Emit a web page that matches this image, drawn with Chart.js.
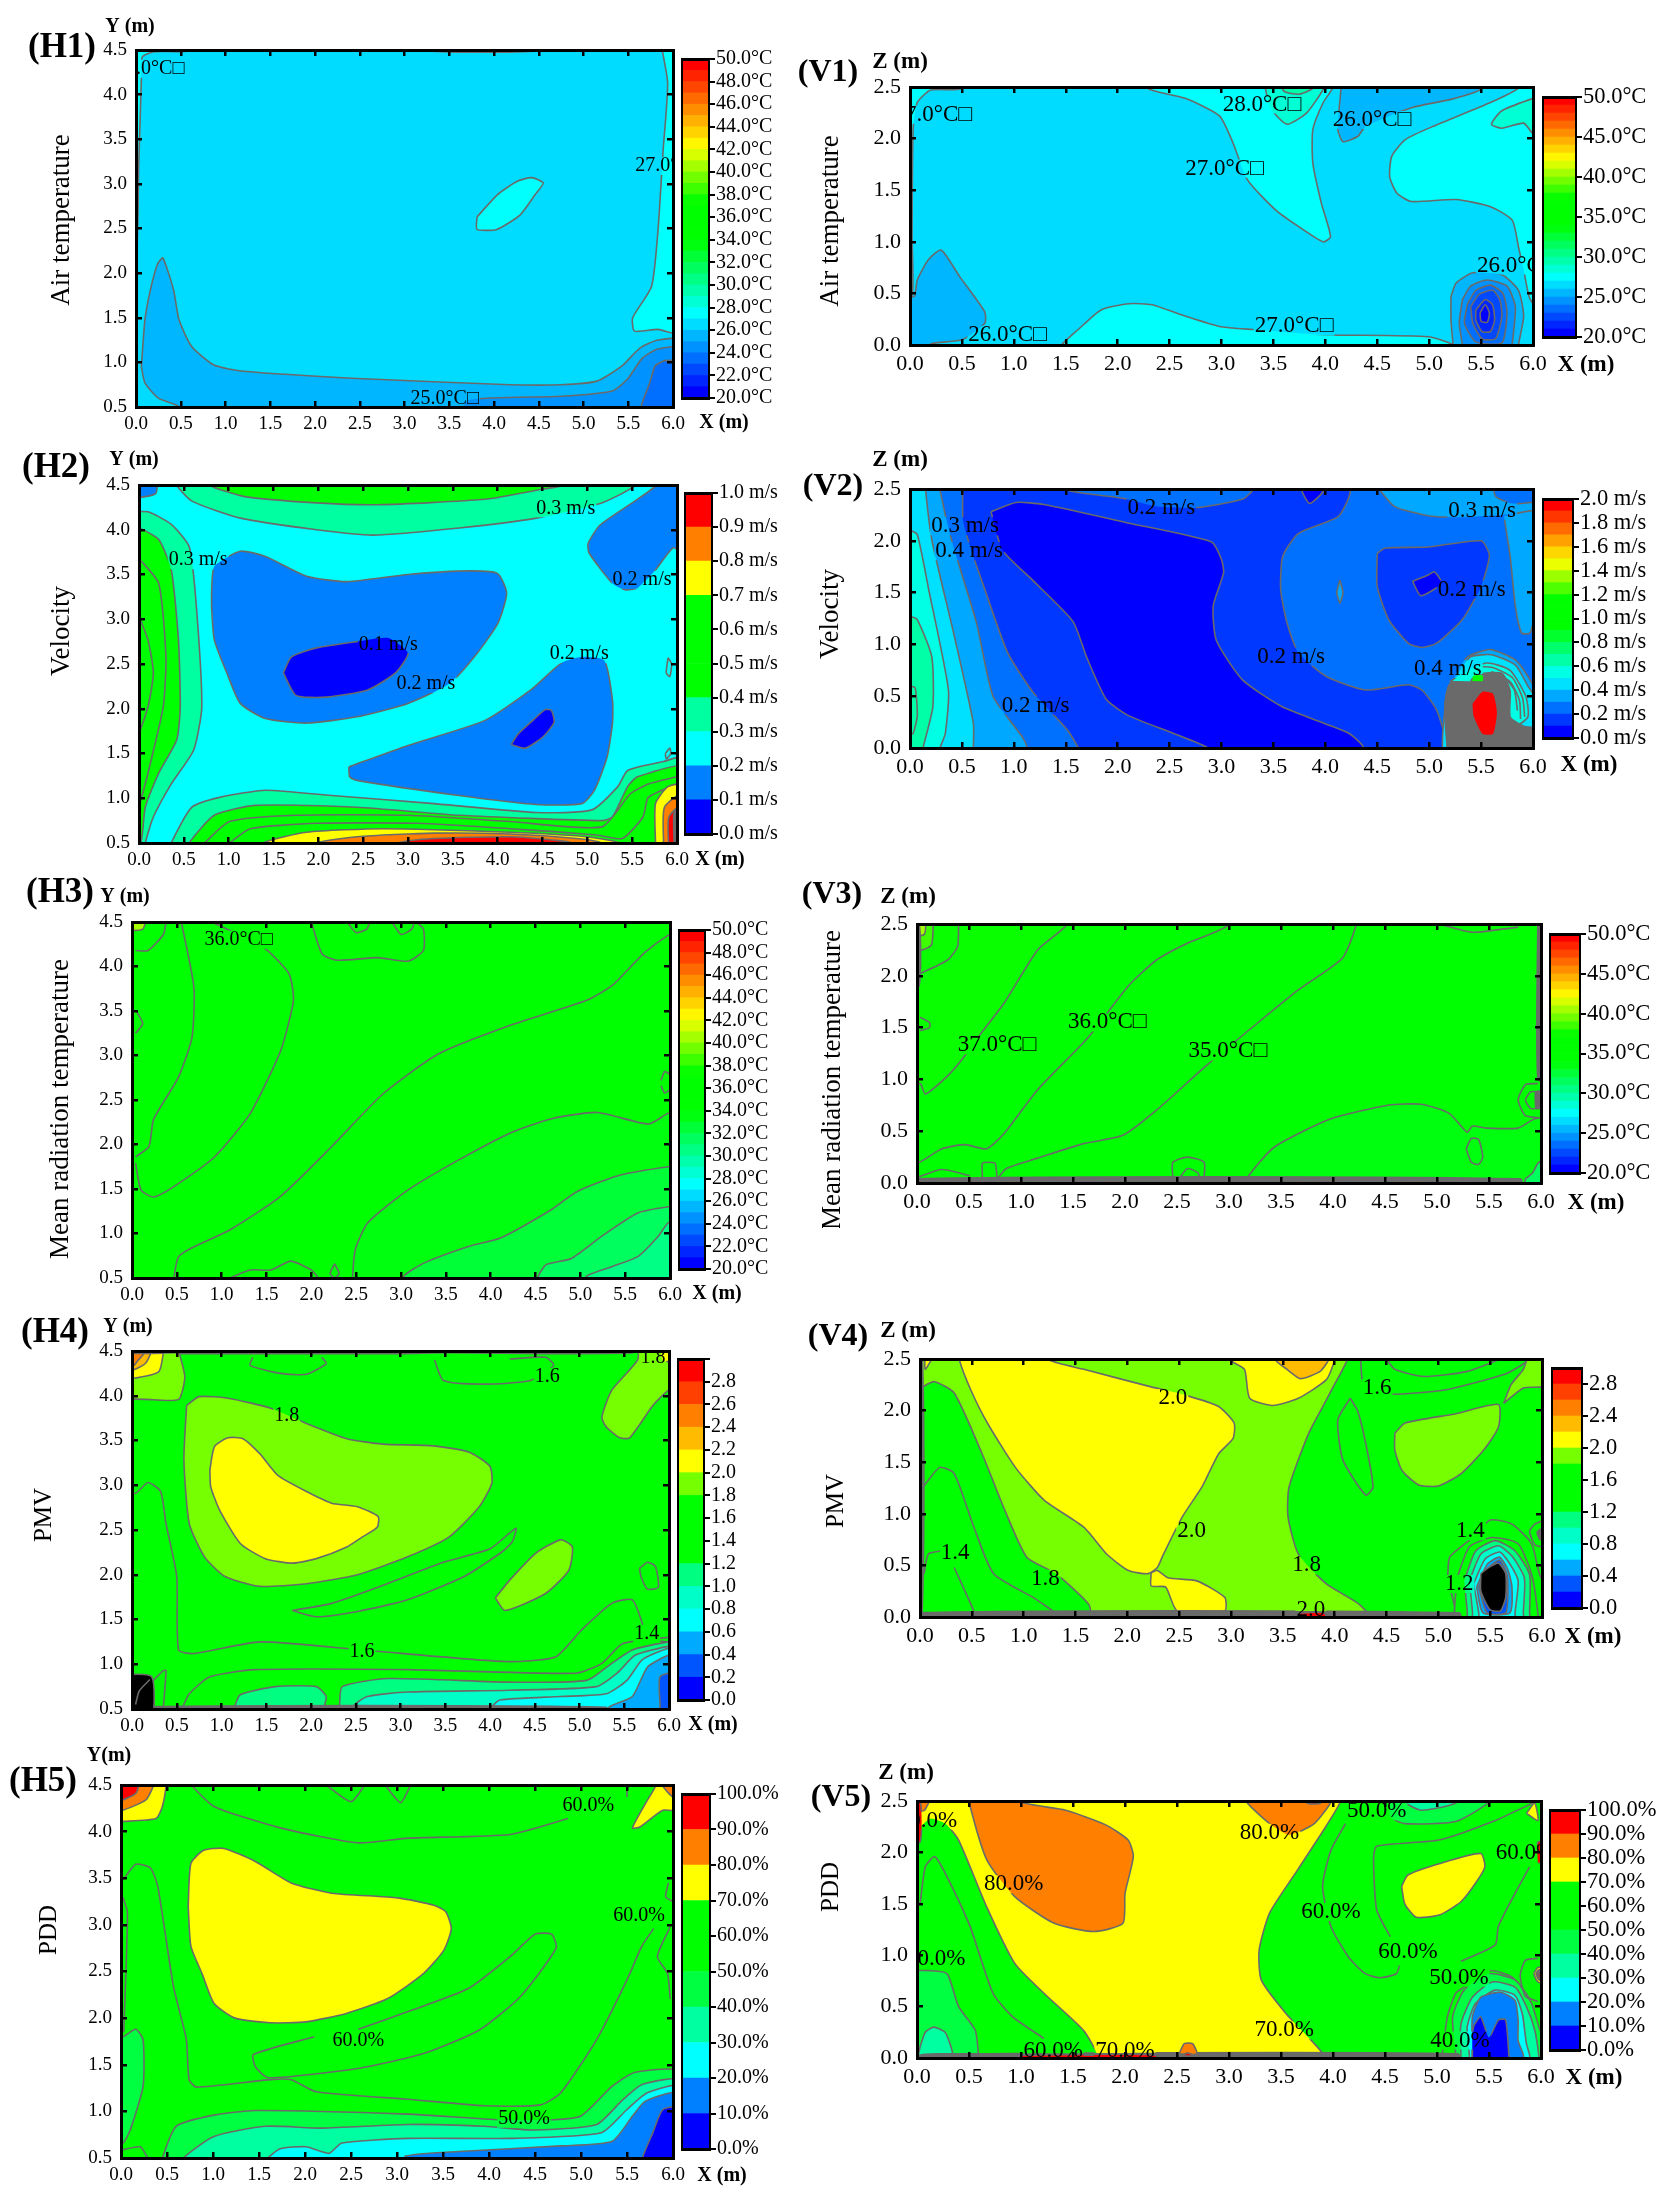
<!DOCTYPE html>
<html>
<head>
<meta charset="utf-8">
<title>Indoor thermal environment contours</title>
<script src="https://cdn.jsdelivr.net/npm/chart.js@4"></script>
<style>
  html, body { margin: 0; background: #fff; }
  #page { position: relative; width: 1675px; height: 2200px; overflow: hidden; }
  canvas { position: absolute; }
</style>
</head>
<body>
<div id="page"></div>
<script>
const DENSE = 'dense';  // patch where contour lines pile up into solid grey
const OFF = 'off';      // values outside the colour map, black in the figure
const LINE = 'line';    // contour with the same colour on both sides
const wholeArea = [[-1, -1], [7, -1], [7, 6], [-1, 6]];

// Contours: [lower level of the band, [[x, y], ...]] painted in this order
const h1Regions = [
  [26, wholeArea],
  [27, [[5.86,4.6],[5.94,4.13],[5.89,3.38],[5.83,2.45],[5.76,1.85],[5.55,1.5],[5.57,1.35],[5.83,1.37],[6.1,1.33],[6.1,4.6]]],
  [27, [[-0.1,4.6],[0.7,4.6],[0.6,4.49],[0.2,4.48],[0.07,4.42],[0.06,4.16],[0.03,3.2],[0,2.07],[-0.1,2.07]]],
  [27, [[3.2,4.6],[3.25,4.49],[4.5,4.49],[4.55,4.6]]],
  [25, [[0.06,0.95],[0.1,1.48],[0.16,1.81],[0.24,2.1],[0.3,2.17],[0.42,1.81],[0.48,1.48],[0.62,1.18],[0.87,0.97],[1.21,0.9],[2.47,0.82],[4.18,0.75],[4.75,0.75],[5.15,0.79],[5.43,0.96],[5.63,1.16],[5.83,1.25],[6.1,1.25],[6.1,0.4],[0.5,0.4],[0.47,0.51],[0.25,0.6],[0.1,0.77]]],
  [24, [[3.6,0.4],[3.72,0.58],[4.75,0.62],[5.32,0.68],[5.49,0.81],[5.66,1.05],[5.83,1.15],[6.1,1.16],[6.1,0.4]]],
  [23, [[5.63,0.4],[5.65,0.53],[5.74,0.77],[5.8,0.96],[5.91,1.02],[6.1,1],[6.1,0.4]]],
  [27, [[3.81,2.63],[4.04,2.88],[4.26,3.03],[4.42,3.07],[4.55,3.01],[4.46,2.88],[4.29,2.65],[4.03,2.49],[3.81,2.49]]]
];
const h1Labels = [[0.16,4.29,'27.0°C□'],[5.96,3.2,'27.0°C□'],[3.45,0.59,'25.0°C□']];

const v1Regions = [
  [26, wholeArea],
  [27, [[-0.1,2.6],[0.55,2.6],[0.48,2.48],[0.2,2.47],[0.07,2.35],[0.03,2.09],[0.02,1.05],[0.02,0.47],[-0.1,0.47]]],
  [27, [[2.25,2.6],[2.3,2.48],[2.65,2.39],[2.98,2.22],[3.11,1.96],[3.25,1.6],[3.52,1.31],[3.74,1.15],[3.98,1],[4.05,1.05],[3.96,1.38],[3.88,1.76],[3.88,2.09],[3.98,2.35],[4.07,2.49],[4.07,2.6]]],
  [28, [[3.4,2.6],[3.47,2.3],[3.63,2.14],[3.82,2.25],[3.98,2.48],[4,2.6]]],
  [29, [[3.55,2.6],[3.6,2.46],[3.75,2.43],[3.9,2.5],[3.92,2.6]]],
  [25, [[4.15,2.6],[4.15,2.48],[4.12,2.09],[4.17,1.97],[4.31,2.02],[4.39,2.12],[4.83,2.3],[5.21,2.38],[5.5,2.48],[5.5,2.6]]],
  [27, [[5.9,2.6],[5.86,2.49],[5.59,2.35],[5.04,2.12],[4.77,1.99],[4.64,1.83],[4.62,1.63],[4.69,1.47],[4.83,1.39],[5.26,1.41],[5.59,1.34],[5.8,1.21],[5.86,0.95],[5.91,0.73],[5.97,0.45],[6.1,0.3],[6.1,2.6]]],
  [28, [[6.1,2.42],[6,2.39],[5.7,2.27],[5.6,2.14],[5.7,2.1],[5.91,2.15],[6,2.05],[6.1,2.05]]],
  [25, [[-0.1,0.47],[0.04,0.47],[0.07,0.63],[0.18,0.83],[0.3,0.92],[0.48,0.66],[0.72,0.32],[0.72,0.21],[0.5,0.05],[0.2,0.01],[0.2,-0.1],[-0.1,-0.1]]],
  [27, [[1.46,-0.1],[1.46,0],[1.62,0.15],[1.84,0.34],[2.11,0.4],[2.33,0.39],[2.65,0.28],[2.98,0.18],[3.3,0.15],[3.96,0.1],[4.99,0.08],[5.23,0],[5.23,-0.1]]],
  [25, [[5.21,0.47],[5.26,0.6],[5.42,0.7],[5.7,0.68],[5.86,0.53],[5.91,0.28],[5.86,0],[5.86,-0.1],[5.23,-0.1],[5.23,0],[5.21,0.24]]],
  [24, [[5.32,0.44],[5.4,0.57],[5.56,0.63],[5.75,0.57],[5.83,0.37],[5.8,0],[5.8,-0.1],[5.32,-0.1],[5.32,0],[5.29,0.21]]],
  [23, [[5.37,0.4],[5.45,0.53],[5.59,0.58],[5.71,0.5],[5.75,0.31],[5.7,0.02],[5.45,0.03],[5.34,0.21]]],
  [22, [[5.4,0.37],[5.48,0.49],[5.61,0.53],[5.68,0.44],[5.7,0.28],[5.64,0.06],[5.51,0.06],[5.42,0.21]]],
  [21, [[5.45,0.34],[5.54,0.44],[5.61,0.39],[5.63,0.24],[5.59,0.13],[5.51,0.13],[5.45,0.24]]],
  [20, [[5.49,0.31],[5.54,0.39],[5.58,0.31],[5.56,0.22],[5.5,0.23]]]
];
const v1Labels = [[0.22,2.23,'27.0°C□'],[3.39,2.33,'28.0°C□'],[4.45,2.18,'26.0°C□'],[3.03,1.71,'27.0°C□'],[5.84,0.77,'26.0°C□'],[3.7,0.18,'27.0°C□'],[0.94,0.1,'26.0°C□']];

const h2Regions = [
  [0.2, wholeArea],
  [0.3, [[-0.1,4.2],[0.1,4.2],[0.36,4.06],[0.56,3.81],[0.64,3.14],[0.7,2.02],[0.61,1.54],[0.36,1.16],[0.16,0.79],[0.07,0.5],[0.07,0.4],[-0.1,0.4]]],
  [0.4, [[-0.1,4.02],[0,4.02],[0.22,3.89],[0.36,3.55],[0.44,2.77],[0.46,2.02],[0.42,1.65],[0.22,1.28],[0.07,0.9],[0.02,0.5],[-0.1,0.4]]],
  [LINE, [[0,3.68],[0.22,3.4],[0.3,2.58],[0.27,2.02],[0.1,1.28],[0,0.9]]],
  [LINE, [[0,3.03],[0.1,2.77],[0.16,2.4],[0.1,2.02],[0,1.72]]],
  [0.3, [[0.42,4.6],[0.42,4.5],[0.59,4.32],[1.13,4.13],[1.98,4],[2.61,3.94],[3.57,4.02],[4.43,4.13],[5.16,4.3],[5.53,4.49],[5.55,4.6]]],
  [0.4, [[0.78,4.6],[0.78,4.5],[1.18,4.37],[1.98,4.3],[2.66,4.28],[3.86,4.34],[4.48,4.45],[4.74,4.5],[4.75,4.6]]],
  [0.1, [[-0.1,4.6],[0.19,4.6],[0.19,4.41],[0.07,4.37],[-0.1,4.37]]],
  [0.1, [[5.76,4.6],[5.76,4.49],[5.5,4.3],[5.14,4.05],[5.01,3.85],[5.02,3.74],[5.28,3.4],[5.42,3.33],[5.56,3.35],[5.76,3.55],[5.96,3.8],[6.1,3.7],[6.1,4.6]]],
  [0.1, [[0.81,3.33],[0.84,3.59],[1.13,3.76],[1.41,3.7],[1.87,3.48],[2.32,3.42],[3,3.5],[3.69,3.54],[4,3.51],[4.1,3.29],[4,2.95],[3.74,2.58],[3.46,2.28],[3,2.06],[2.43,1.91],[1.87,1.84],[1.41,1.89],[1.13,2.06],[0.98,2.4],[0.84,2.77],[0.81,3.14]]],
  [0, [[1.61,2.4],[1.7,2.58],[1.98,2.68],[2.43,2.75],[2.78,2.79],[3,2.62],[2.86,2.4],[2.55,2.21],[2.09,2.13],[1.75,2.15]]],
  [0.1, [[2.34,1.35],[3,1.59],[3.86,1.87],[4.37,2.21],[4.71,2.51],[4.94,2.58],[5.19,2.54],[5.28,2.1],[5.28,1.84],[5.22,1.46],[5.08,1.09],[4.94,0.94],[4.43,0.93],[3.57,1.03],[2.43,1.2],[2.35,1.24]]],
  [0, [[4.15,1.6],[4.23,1.72],[4.37,1.85],[4.53,1.99],[4.6,1.98],[4.63,1.85],[4.51,1.69],[4.31,1.56]]],
  [0.3, [[0.36,0.4],[0.36,0.5],[0.59,0.9],[0.9,1.01],[1.41,1.09],[2.15,1.03],[3.29,0.94],[4.43,0.84],[5.05,0.87],[5.34,1.13],[5.45,1.31],[5.85,1.41],[6.1,1.46],[6.1,0.4]]],
  [0.4, [[0.56,0.4],[0.56,0.5],[0.84,0.81],[1.3,0.92],[2.43,0.9],[3.57,0.81],[5.16,0.75],[5.28,0.79],[5.45,1.13],[5.56,1.24],[6.1,1.35],[6.1,0.4]]],
  [LINE, [[0.73,0.5],[1.01,0.74],[1.75,0.81],[3,0.81],[4.14,0.74],[5.16,0.68],[5.48,1.05],[5.68,1.16],[6,1.24]]],
  [LINE, [[1.01,0.5],[1.24,0.66],[1.98,0.72],[3.12,0.72],[4.14,0.66],[5.11,0.59],[5.39,0.55],[5.62,0.79],[5.68,1.01],[6,1.16]]],
  [0.7, [[1.38,0.4],[1.38,0.5],[1.87,0.62],[2.72,0.66],[4.14,0.62],[4.99,0.57],[5.36,0.5],[5.36,0.4]]],
  [0.7, [[5.76,0.4],[5.76,0.5],[5.76,0.94],[5.9,1.13],[6.1,1.15],[6.1,0.4]]],
  [0.8, [[1.98,0.4],[1.98,0.5],[2.43,0.57],[3.29,0.61],[4.14,0.6],[4.88,0.55],[5.16,0.5],[5.16,0.4]]],
  [0.8, [[5.85,0.4],[5.85,0.5],[5.86,0.9],[6.1,1.07],[6.1,0.4]]],
  [0.9, [[2.89,0.4],[2.89,0.5],[3.29,0.55],[4.14,0.57],[4.65,0.53],[4.82,0.5],[4.82,0.4]]],
  [0.9, [[5.91,0.4],[5.91,0.79],[6.1,0.96],[6.1,0.4]]],
  [DENSE, [[5.97,0.45],[5.97,0.85],[6.1,0.95],[6.1,0.45]]],
  [0.2, [[5.9,2.57],[5.94,2.5],[5.92,2.36],[5.88,2.4]]],
  [0.2, [[5.87,1.5],[5.92,1.56],[5.93,1.5],[5.88,1.44]]]
];
const h2Labels = [[4.76,4.24,'0.3 m/s'],[0.66,3.66,'0.3 m/s'],[2.78,2.72,'0.1 m/s'],[3.2,2.28,'0.2 m/s'],[4.91,2.61,'0.2 m/s'],[5.61,3.44,'0.2 m/s']];

const v2Regions = [
  [0.2, wholeArea],
  [0.1, [[0.51,2.6],[4.23,2.6],[4.23,2.43],[4.12,2.23],[3.74,2.07],[3.59,1.85],[3.57,1.53],[3.63,1.21],[3.74,0.92],[4.01,0.69],[4.39,0.56],[4.8,0.61],[4.93,0.56],[5.07,0.37],[5.18,0.02],[5.18,-0.1],[1.62,-0.1],[1.62,0],[1.51,0.18],[1.19,0.53],[0.94,0.92],[0.7,1.59],[0.59,1.91],[0.51,2.2]]],
  [0.2, [[1.51,2.6],[1.51,2.49],[2.05,2.41],[2.38,2.33],[2.76,2.32],[3.2,2.4],[3.3,2.49],[3.3,2.6]]],
  [0.3, [[4.53,2.6],[4.53,2.49],[4.67,2.33],[5,2.24],[5.37,2.23],[6.1,2.31],[6.1,2.6]]],
  [0.2, [[5.6,2.6],[5.64,2.43],[5.8,2.36],[6.1,2.4],[6.1,2.6]]],
  [0.3, [[5.72,2.24],[5.78,1.85],[5.83,1.37],[5.89,1.11],[5.97,1.11],[6.02,1.3],[6.1,2.28]]],
  [0.3, [[4.14,1.62],[4.17,1.5],[4.14,1.4],[4.11,1.5]]],
  [0.1, [[4.5,1.88],[4.58,1.93],[4.99,1.94],[5.5,2],[5.58,1.86],[5.5,1.56],[5.32,1.24],[5.07,1.01],[4.93,0.97],[4.8,1.01],[4.61,1.24],[4.5,1.56]]],
  [0, [[4.84,1.61],[4.99,1.67],[5.05,1.7],[5.12,1.59],[4.92,1.47]]],
  [0, [[0.78,2.28],[1.02,2.37],[1.29,2.35],[2.11,2.17],[2.9,1.99],[3,1.82],[3.02,1.69],[2.92,1.37],[2.95,1.04],[3.2,0.66],[3.58,0.4],[4.01,0.23],[4.23,0.14],[4.36,0.02],[4.36,-0.1],[2.87,-0.1],[2.87,0],[2.54,0.14],[2.11,0.31],[1.89,0.47],[1.7,0.88],[1.57,1.22],[1.18,1.62],[0.89,1.91]]],
  [0, [[3.77,2.6],[3.77,2.49],[3.85,2.36],[3.98,2.48],[3.98,2.6]]],
  [0.3, [[-0.1,2.6],[0.29,2.6],[0.29,2.49],[0.4,2.01],[0.64,1.21],[0.8,0.5],[1.08,0.11],[1.13,0],[1.13,-0.1],[-0.1,-0.1]]],
  [0.4, [[-0.1,2.6],[0.15,2.6],[0.15,2.49],[0.21,2.01],[0.42,1.11],[0.61,0.24],[0.61,0],[0.61,-0.1],[-0.1,-0.1]]],
  [0.5, [[-0.1,2.1],[0,2.1],[0.07,2.06],[0.18,1.53],[0.37,0.56],[0.34,0.14],[0.29,0],[0.29,-0.1],[-0.1,-0.1]]],
  [0.6, [[-0.1,1.27],[0,1.27],[0.07,1.24],[0.21,0.88],[0.22,0.4],[0.13,0.02],[0.1,-0.1],[-0.1,-0.1]]],
  [LINE, [[0,0.6],[0.05,0.58],[0.07,0.31],[0.03,0.14],[0,0.14]]],
  [0.3, [[5.18,0.53],[5.26,0.72],[5.37,0.88],[5.59,0.95],[5.83,0.85],[5.97,0.66],[6.1,0.4],[6.1,-0.1],[5.18,-0.1]]],
  [0.4, [[5.16,0.5],[5.3,0.75],[5.4,0.88],[5.6,0.9],[5.83,0.8],[5.95,0.6],[6.1,0.35],[6.1,-0.1],[5.16,-0.1]]],
  [0.5, [[5.16,0.5],[5.3,0.7],[5.55,0.82],[5.78,0.75],[5.93,0.5],[5.95,0.3],[5.8,0.2]]],
  [LINE, [[5.4,0.78],[5.6,0.78],[5.8,0.68],[5.9,0.48],[5.92,0.3]]],
  [LINE, [[5.6,0.74],[5.78,0.64],[5.87,0.46],[5.88,0.28]]],
  [LINE, [[5.7,0.72],[5.82,0.56],[5.85,0.36]]],
  [DENSE, [[5.18,-0.1],[5.15,0.4],[5.2,0.62],[5.53,0.72],[5.7,0.72],[5.78,0.55],[5.78,0.3],[5.91,0.21],[6.1,0.18],[6.1,-0.1]]],
  [0.5, [[5.2,0.64],[5.3,0.7],[5.52,0.7],[5.52,0.64]]],
  [0.9, [[5.4,0.64],[5.43,0.7],[5.52,0.7],[5.52,0.64]]],
  [1.9, [[5.41,0.43],[5.51,0.55],[5.62,0.53],[5.66,0.34],[5.62,0.13],[5.51,0.13],[5.42,0.31]]]
];
const v2Labels = [[0.53,2.14,'0.3 m/s'],[0.57,1.9,'0.4 m/s'],[2.42,2.32,'0.2 m/s'],[5.51,2.29,'0.3 m/s'],[5.41,1.53,'0.2 m/s'],[3.67,0.88,'0.2 m/s'],[5.18,0.76,'0.4 m/s'],[1.21,0.41,'0.2 m/s']];

const h3Regions = [
  [36, wholeArea],
  [34, [[0.47,0.4],[0.47,0.52],[0.52,0.74],[0.67,0.84],[1.09,1.04],[1.66,1.42],[2.23,1.98],[2.8,2.57],[3.42,3.02],[4.22,3.34],[5.07,3.62],[5.36,3.79],[5.7,4.14],[5.98,4.35],[6.1,4.35],[6.1,0.4]]],
  [33, [[2.46,0.4],[2.46,0.52],[2.49,0.82],[2.63,1.12],[3.08,1.49],[3.65,1.83],[4.22,2.13],[4.68,2.29],[5.19,2.36],[5.76,2.23],[5.98,2.35],[6.1,2.35],[6.1,0.4]]],
  [32, [[3.03,0.4],[3.03,0.52],[3.26,0.67],[3.77,0.86],[4.11,0.95],[4.68,1.27],[4.96,1.47],[5.42,1.65],[5.98,1.75],[6.1,1.75],[6.1,0.4]]],
  [31, [[4.53,0.4],[4.53,0.52],[4.62,0.65],[4.9,0.72],[5.24,0.97],[5.64,1.23],[5.98,1.3],[6.1,1.3],[6.1,0.4]]],
  [30, [[5.07,0.4],[5.07,0.52],[5.36,0.63],[5.64,0.74],[5.87,0.97],[5.98,1.12],[6.1,1.12],[6.1,0.4]]],
  [LINE, [[0.55,4.5],[0.69,3.77],[0.67,3.21],[0.52,2.76],[0.24,2.28],[0.19,1.98],[0.04,1.86]]],
  [LINE, [[0.89,4.5],[1.46,4.22],[1.75,3.92],[1.8,3.62],[1.66,3.06],[1.32,2.35],[0.92,1.86],[0.41,1.49],[0.24,1.41],[0.1,1.49],[0.04,1.79]]],
  [LINE, [[2,4.5],[2.12,4.14],[2.29,4.07],[2.74,4.1],[3.08,4.06],[3.25,4.18],[3.25,4.42],[3.17,4.5]]],
  [LINE, [[2.4,4.5],[2.5,4.38],[2.62,4.42],[2.65,4.5]]],
  [LINE, [[2.9,4.5],[3,4.36],[3.12,4.42],[3.15,4.5]]],
  [LINE, [[0.04,4.18],[0.18,4.18],[0.35,4.36],[0.38,4.5]]],
  [LINE, [[0.04,3.51],[0.12,3.36],[0.04,3.25]]],
  [LINE, [[5.9,2.72],[5.94,2.82],[6,2.78],[6,2.62],[5.94,2.58],[5.9,2.66]]],
  [LINE, [[1.09,0.5],[1.32,0.59],[1.55,0.59],[1.77,0.69],[2,0.59],[2.08,0.5]]],
  [36, [[2.26,0.66],[2.31,0.55],[2.26,0.5],[2.21,0.55]]],
  [40, [[-0.1,4.6],[0.15,4.6],[0.12,4.42],[-0.1,4.42]]]
];
const h3Labels = [[1.19,4.3,'36.0°C□']];

const v3Regions = [
  [34, wholeArea],
  [35, [[-0.1,-0.1],[-0.1,2.6],[4.22,2.6],[4.22,2.48],[4.09,2.17],[3.66,1.86],[3.39,1.64],[2.79,1.14],[2.3,0.7],[1.98,0.46],[1.6,0.38],[1.16,0.24],[0.86,0.14],[0.78,0.04],[0.78,-0.1]]],
  [36, [[-0.1,0.2],[-0.1,2.6],[2.98,2.6],[2.98,2.48],[2.57,2.3],[2.3,2.15],[2.03,1.9],[1.65,1.41],[1.16,0.9],[0.84,0.48],[0.67,0.33],[0.46,0.37],[0.24,0.33],[0.02,0.2]]],
  [37, [[-0.1,0.9],[-0.1,2.6],[1.43,2.6],[1.43,2.48],[1.16,2.25],[0.84,1.74],[0.62,1.45],[0.43,1.19],[0.29,1.03],[0.08,0.86],[0.03,0.96]]],
  [33, [[3.17,-0.1],[3.17,0.04],[3.44,0.35],[3.98,0.62],[4.53,0.75],[4.85,0.76],[5.12,0.67],[5.29,0.49],[5.34,0.55],[5.48,0.53],[5.78,0.53],[5.94,0.62],[6.1,0.62],[6.1,-0.1]]],
  [LINE, [[5.02,2.5],[5.34,2.42],[5.78,2.47]]],
  [LINE, [[0.03,2.02],[0.29,2.15],[0.39,2.28],[0.4,2.5]]],
  [38, [[-0.1,2.6],[0.14,2.6],[0.14,2.3],[0.05,2.25],[-0.1,2.25]]],
  [40, [[-0.1,2.6],[0.07,2.6],[0.07,2.4],[-0.1,2.4]]],
  [33, [[5.28,0.33],[5.33,0.43],[5.4,0.42],[5.44,0.25],[5.4,0.18],[5.33,0.2]]],
  [LINE, [[0.02,0.06],[0.24,0.13],[0.51,0.07]]],
  [LINE, [[0.63,0.04],[0.63,0.19],[0.75,0.19],[0.77,0.04]]],
  [LINE, [[2.46,0.04],[2.46,0.2],[2.6,0.25],[2.76,0.2],[2.76,0.04]]],
  [LINE, [[2.52,0.04],[2.6,0.14],[2.7,0.1],[2.72,0.04]]],
  [LINE, [[0.03,1.6],[0.12,1.55],[0.12,1.5],[0.03,1.47]]],
  [LINE, [[5.97,0.96],[5.85,0.95],[5.78,0.8],[5.85,0.65],[5.97,0.63]]],
  [LINE, [[5.97,0.88],[5.9,0.88],[5.85,0.8],[5.9,0.72],[5.97,0.72]]],
  [DENSE, [[5.95,0.72],[5.95,0.88],[6.1,0.88],[6.1,0.72]]],
  [31, [[5.85,0.04],[5.92,0.1],[5.98,0.2],[6.1,0.2],[6.1,-0.1],[5.85,-0.1]]],
  [DENSE, [[-0.1,-0.1],[-0.1,0.04],[5.8,0.04],[5.8,-0.1]]],
  [DENSE, [[5.97,2.6],[5.97,1],[6.1,1],[6.1,2.6]]],
  [DENSE, [[-0.1,2.5],[0.02,2.5],[0.02,1.9],[-0.1,1.9]]]
];
const v3Labels = [[0.77,1.33,'37.0°C□'],[1.83,1.55,'36.0°C□'],[2.99,1.27,'35.0°C□']];

const h4Regions = [
  [1.6, wholeArea],
  [1.4, [[-0.1,2.91],[0.04,2.91],[0.18,3.03],[0.32,2.93],[0.38,2.57],[0.5,1.98],[0.52,1.16],[0.69,1.12],[1.43,1.25],[2.57,1.16],[4.17,1.03],[4.73,1.08],[5.02,1.38],[5.36,1.68],[5.59,1.72],[5.7,1.46],[5.73,1.29],[5.99,1.25],[6.1,1.25],[6.1,0.4],[-0.1,0.4]]],
  [1.8, [[-0.1,3.97],[0.15,3.96],[0.52,3.96],[0.59,4.21],[0.53,4.48],[0.53,4.6],[-0.1,4.6]]],
  [2.0, [[-0.1,4.2],[0.05,4.2],[0.3,4.27],[0.35,4.48],[0.35,4.6],[-0.1,4.6]]],
  [2.2, [[-0.1,4.29],[0.02,4.29],[0.15,4.36],[0.21,4.48],[0.21,4.6],[-0.1,4.6]]],
  [2.4, [[-0.1,4.34],[0.02,4.34],[0.07,4.4],[0.14,4.48],[0.14,4.6],[-0.1,4.6]]],
  [1.8, [[0.61,3.89],[0.75,3.99],[1.09,3.97],[1.55,3.86],[1.95,3.69],[2.4,3.52],[2.8,3.46],[3.37,3.44],[3.77,3.37],[4,3.21],[4.02,3.02],[3.88,2.76],[3.54,2.42],[3.08,2.2],[2.52,2],[1.95,1.9],[1.43,1.87],[1.04,1.98],[0.81,2.2],[0.64,2.57],[0.58,3.28]]],
  [2.0, [[0.87,3.17],[0.92,3.43],[1.07,3.53],[1.24,3.52],[1.43,3.35],[1.63,3.11],[1.95,2.93],[2.23,2.8],[2.52,2.76],[2.75,2.65],[2.74,2.53],[2.57,2.42],[2.4,2.31],[2.06,2.18],[1.8,2.13],[1.49,2.18],[1.21,2.35],[0.98,2.72],[0.88,2.98]]],
  [1.8, [[4.06,1.74],[4.22,1.94],[4.51,2.24],[4.79,2.39],[4.92,2.31],[4.88,2.05],[4.62,1.79],[4.17,1.6]]],
  [LINE, [[1.79,1.6],[2.23,1.68],[2.8,1.88],[3.48,2.14],[4,2.29],[4.29,2.52],[4.25,2.37],[4.14,2.26],[3.71,1.98],[3.08,1.72],[2.52,1.59],[2.06,1.53],[1.79,1.6]]],
  [LINE, [[1.35,4.43],[1.32,4.34],[1.66,4.25],[1.95,4.24],[2.17,4.36],[2.12,4.43]]],
  [LINE, [[3.38,4.4],[3.48,4.17],[3.94,4.13],[4.45,4.17],[4.71,4.34],[4.62,4.43],[4.22,4.41]]],
  [1.8, [[5.65,4.6],[5.65,4.4],[5.36,4.06],[5.25,3.76],[5.3,3.65],[5.45,3.53],[5.56,3.53],[5.82,3.89],[5.99,4.06],[6.1,4.1],[6.1,4.6]]],
  [2.0, [[5.9,4.6],[5.93,4.4],[6.1,4.38],[6.1,4.6]]],
  [LINE, [[5.67,2.07],[5.76,2.14],[5.85,2.09],[5.88,1.86],[5.76,1.84],[5.69,1.97],[5.67,2.07]]],
  [LINE, [[0.22,0.8],[0.35,0.93],[0.38,0.93],[0.35,0.52]]],
  [LINE, [[0.57,0.53],[0.64,0.67],[0.87,0.86],[1.38,0.94],[3.08,0.94],[4.96,0.9],[5.25,1.01],[5.48,1.23],[5.99,1.3]]],
  [1.0, [[1.15,0.4],[1.15,0.53],[1.21,0.66],[1.6,0.75],[2.06,0.75],[2.17,0.64],[2.15,0.53],[2.15,0.4]]],
  [1.0, [[2.32,0.4],[2.32,0.56],[2.35,0.75],[2.86,0.84],[4.22,0.8],[5.08,0.82],[5.36,1.01],[5.59,1.16],[5.99,1.25],[6.1,1.25],[6.1,0.4]]],
  [0.8, [[2.47,0.4],[2.47,0.53],[2.63,0.64],[3.08,0.69],[4.22,0.71],[5.19,0.75],[5.42,0.9],[5.62,1.1],[5.99,1.2],[6.1,1.2],[6.1,0.4]]],
  [0.6, [[4.02,0.4],[4.02,0.52],[4.11,0.6],[4.79,0.64],[5.3,0.67],[5.53,0.82],[5.7,1.05],[5.99,1.18],[6.1,1.18],[6.1,0.4]]],
  [0.4, [[5.33,0.4],[5.33,0.52],[5.59,0.64],[5.76,0.97],[5.99,1.1],[6.1,1.1],[6.1,0.4]]],
  [0.2, [[5.9,0.4],[5.9,0.54],[5.9,0.86],[6.1,0.9],[6.1,0.4]]],
  [DENSE, [[-0.1,0.4],[-0.1,0.52],[5.3,0.52],[5.3,0.4]]],
  [DENSE, [[-0.1,4.6],[-0.1,4.48],[0.5,4.48],[0.55,4.47],[3,4.47],[3.5,4.48],[5.6,4.48],[5.6,4.6]]],
  [OFF, [[-0.1,0.4],[-0.1,0.86],[0.22,0.86],[0.22,0.4]]],
  [LINE, [[0.04,0.55],[0.08,0.7],[0.2,0.83]]]
];
const h4Labels = [[1.73,3.78,'1.8'],[4.64,4.21,'1.6'],[5.82,4.42,'1.8'],[2.57,1.14,'1.6'],[5.75,1.34,'1.4']];

const v4Regions = [
  [1.6, wholeArea],
  [1.8, [[-0.1,2.1],[0.03,2.23],[0.14,2.28],[0.33,2.17],[0.6,1.58],[0.82,1.03],[1.03,0.58],[1.31,0.42],[1.63,0.12],[1.69,-0.1],[4.4,-0.1],[4.24,0.12],[3.92,0.32],[3.65,0.61],[3.55,0.97],[3.56,1.26],[3.75,1.78],[3.97,2.2],[4.13,2.6],[-0.1,2.6]]],
  [2.0, [[0.38,2.6],[0.38,2.49],[0.49,2.2],[0.65,1.88],[0.92,1.45],[1.2,1.13],[1.58,0.87],[1.8,0.61],[2.01,0.45],[2.2,0.42],[2.29,0.48],[2.34,0.59],[2.53,0.97],[2.72,1.26],[2.88,1.58],[3.02,1.73],[3.03,1.88],[2.88,2.04],[2.56,2.15],[2.23,2.23],[1.58,2.4],[1.25,2.49],[1.25,2.6]]],
  [2.0, [[0.05,2.6],[0.05,2.4],[0.12,2.5],[0.22,2.5],[0.25,2.6]]],
  [2.0, [[2.23,0.43],[2.23,0.3],[2.37,0.29],[2.48,0.06],[2.94,0.06],[2.94,0.19],[2.67,0.35],[2.39,0.38],[2.29,0.45]]],
  [2.0, [[2.99,2.6],[2.99,2.49],[3.13,2.4],[3.18,2.12],[3.4,2.05],[3.65,2.12],[3.92,2.3],[4,2.49],[4,2.6]]],
  [2.2, [[3.43,2.6],[3.43,2.49],[3.54,2.4],[3.67,2.31],[3.86,2.38],[3.94,2.49],[3.94,2.6]]],
  [LINE, [[0.04,0.42],[0.08,0.61],[0.2,0.64]]],
  [LINE, [[0.33,0.48],[0.52,0.06]]],
  [LINE, [[0.03,1.26],[0.19,1.45],[0.33,1.39],[0.52,0.87],[0.71,0.42],[1.09,0.19],[1.28,0.06]]],
  [1.8, [[4.58,1.78],[4.68,1.88],[5.17,1.97],[5.58,2.06],[5.58,1.84],[5.44,1.62],[5.22,1.39],[5,1.27],[4.81,1.28],[4.65,1.42],[4.58,1.62]]],
  [LINE, [[4.15,2.12],[4.03,1.91],[4.08,1.52],[4.3,1.18],[4.37,1.26],[4.3,1.68],[4.22,2],[4.15,2.12]]],
  [LINE, [[4.25,2.5],[4.28,2.25],[4.51,2.16],[5.06,2.2],[5.66,2.36],[5.88,2.49]]],
  [LINE, [[4.5,2.5],[4.58,2.4],[4.86,2.33],[5.28,2.38],[5.6,2.5]]],
  [1.8, [[5.63,2.07],[5.82,2.22],[5.99,2.23],[6.1,2.3],[6.1,2.6],[5.9,2.6],[5.82,2.4],[5.7,2.25]]],
  [1.4, [[5.09,0.38],[5.11,0.58],[5.33,0.77],[5.5,0.94],[5.71,0.9],[5.9,0.71],[5.99,0.38],[6.1,0.38],[6.1,-0.1],[5.17,-0.1],[5.17,0.04]]],
  [1.2, [[5.18,0.38],[5.3,0.68],[5.52,0.77],[5.77,0.71],[5.9,0.41],[5.96,0.04],[5.96,-0.1],[5.18,-0.1]]],
  [1.0, [[5.25,0.35],[5.36,0.64],[5.55,0.74],[5.74,0.64],[5.88,0.41],[5.88,0.04],[5.88,-0.1],[5.28,-0.1],[5.28,0.04]]],
  [0.8, [[5.3,0.35],[5.41,0.61],[5.58,0.69],[5.71,0.59],[5.83,0.38],[5.82,0.04],[5.82,-0.1],[5.33,-0.1],[5.33,0.04]]],
  [0.6, [[5.34,0.32],[5.45,0.56],[5.59,0.63],[5.68,0.53],[5.77,0.35],[5.74,0.04],[5.74,-0.1],[5.4,-0.1],[5.39,0.04]]],
  [0.4, [[5.37,0.29],[5.47,0.51],[5.59,0.58],[5.67,0.46],[5.71,0.29],[5.69,0.04],[5.43,0.04]]],
  [0.2, [[5.39,0.29],[5.49,0.48],[5.59,0.55],[5.66,0.42],[5.67,0.22],[5.65,0.04],[5.47,0.04]]],
  [OFF, [[5.41,0.42],[5.47,0.47],[5.58,0.52],[5.65,0.42],[5.65,0.19],[5.6,0.06],[5.5,0.07],[5.41,0.25]]],
  [LINE, [[6,0.93],[5.93,0.9],[5.88,0.83],[5.93,0.7],[6,0.68]]],
  [DENSE, [[5.95,0.82],[5.98,0.85],[6.1,0.85],[6.1,0.75],[5.98,0.75]]],
  [DENSE, [[-0.1,-0.1],[-0.1,0.04],[5.2,0.04],[5.2,-0.1]]],
  [DENSE, [[-0.1,2.6],[0.02,2.6],[0.02,0.04],[-0.1,0.04]]],
  [2.8, [[3.65,0.03],[3.9,0.03],[3.9,-0.1],[3.65,-0.1]]]
];
const v4Labels = [[2.44,2.12,'2.0'],[4.41,2.22,'1.6'],[2.62,0.83,'2.0'],[0.34,0.62,'1.4'],[1.21,0.37,'1.8'],[3.73,0.5,'1.8'],[5.31,0.83,'1.4'],[5.2,0.32,'1.2'],[3.77,0.07,'2.0']];

const h5Regions = [
  [50, wholeArea],
  [40, [[-0.1,1.8],[0.02,1.8],[0.16,1.88],[0.24,1.77],[0.24,1.27],[0.1,0.8],[0.02,0.66],[-0.1,0.66]]],
  [70, [[0.73,3.2],[0.76,3.66],[0.9,3.8],[1.12,3.82],[1.46,3.68],[1.85,3.45],[2.29,3.34],[3.01,3.29],[3.4,3.21],[3.53,3.14],[3.59,2.96],[3.51,2.73],[3.29,2.48],[2.9,2.21],[2.45,2.05],[2.01,1.96],[1.62,1.95],[1.24,2],[1.01,2.16],[0.88,2.48],[0.76,2.77]]],
  [70, [[-0.1,4.11],[0.02,4.11],[0.38,4.14],[0.45,4.27],[0.49,4.49],[0.49,4.6],[-0.1,4.6]]],
  [80, [[-0.1,4.23],[0.02,4.23],[0.27,4.34],[0.35,4.49],[0.35,4.6],[-0.1,4.6]]],
  [90, [[-0.1,4.34],[0.02,4.34],[0.16,4.41],[0.19,4.49],[0.19,4.6],[-0.1,4.6]]],
  [70, [[5.81,4.6],[5.81,4.49],[5.7,4.3],[5.56,4.04],[5.64,4.05],[5.89,4.23],[6.1,4.23],[6.1,4.6]]],
  [80, [[5.89,4.6],[5.89,4.49],[6,4.37],[6.1,4.37],[6.1,4.6]]],
  [LINE, [[0.76,4.5],[1.01,4.27],[1.73,4.04],[2.57,3.88],[3.12,3.93],[4.23,3.97],[4.86,4.14]]],
  [LINE, [[5.5,4.37],[5.5,4.5]]],
  [LINE, [[2.23,4.5],[2.5,4.32],[2.65,4.5]]],
  [LINE, [[2.87,4.5],[3.04,4.31],[3.15,4.5]]],
  [LINE, [[0.02,3.48],[0.16,3.65],[0.32,3.61],[0.4,3.41],[0.57,2.34],[0.71,1.77],[0.74,1.34],[0.82,1.26],[1.62,1.34],[1.85,1.34],[2.12,1.21],[3.12,1.13],[3.95,1.06],[4.56,1.07],[4.78,1.2],[5.17,1.77],[5.5,2.41],[5.66,2.77],[5.79,2.96]]],
  [LINE, [[2.58,1.88],[3.12,2.07],[3.78,2.32],[4.23,2.66],[4.5,2.9],[4.68,2.9],[4.73,2.75],[4.34,2.23],[3.89,1.87],[3.29,1.62],[2.57,1.46],[1.6,1.36],[1.46,1.48],[1.44,1.61],[2.1,1.8]]],
  [LINE, [[0.02,3.3],[0.07,3.13],[0.03,1.85]]],
  [LINE, [[5.97,2.98],[5.83,2.66],[5.94,2.48],[5.97,2.2]]],
  [LINE, [[5.95,3.45],[5.92,3.3],[6,3.25]]],
  [40, [[0.45,0.4],[0.45,0.5],[0.6,0.84],[1.01,0.96],[1.46,1.01],[3.12,0.97],[4.12,0.91],[4.7,0.91],[5,0.95],[5.34,1.27],[5.59,1.42],[6.1,1.42],[6.1,0.4]]],
  [30, [[0.68,0.4],[0.68,0.5],[1.01,0.73],[1.57,0.84],[2.18,0.82],[3.12,0.86],[3.95,0.84],[4.5,0.8],[5.17,0.86],[5.45,1.12],[5.67,1.29],[6.1,1.33],[6.1,0.4]]],
  [20, [[1.6,0.4],[1.6,0.5],[1.73,0.6],[2.01,0.62],[2.26,0.55],[2.4,0.66],[3.12,0.71],[4.23,0.71],[5.22,0.77],[5.5,1.02],[5.72,1.2],[6.1,1.27],[6.1,0.4]]],
  [10, [[3.09,0.4],[3.09,0.52],[3.67,0.57],[4.78,0.63],[5.34,0.68],[5.56,0.95],[5.7,1.11],[6.1,1.2],[6.1,0.4]]],
  [0, [[5.67,0.4],[5.67,0.51],[5.78,0.77],[5.89,1.02],[6.1,1.04],[6.1,0.4]]],
  [LINE, [[0.02,0.59],[0.21,0.62],[0.29,0.5]]]
];
const h5Labels = [[5.08,4.28,'60.0%'],[5.63,3.1,'60.0%'],[2.58,1.76,'60.0%'],[4.38,0.92,'50.0%']];

const v5Regions = [
  [60, wholeArea],
  [70, [[-0.1,2.2],[0.03,2.25],[0.13,2.33],[0.27,2.28],[0.4,2.12],[0.67,1.47],[0.94,0.92],[1.22,0.63],[1.6,0.27],[1.73,0.04],[1.73,-0.1],[3.9,-0.1],[3.9,0.04],[3.82,0.14],[3.55,0.43],[3.31,0.76],[3.29,1.05],[3.39,1.41],[3.66,1.83],[3.93,2.25],[4.07,2.49],[4.07,2.6],[-0.1,2.6]]],
  [80, [[0.5,2.6],[0.5,2.49],[0.67,1.93],[0.94,1.57],[1.32,1.31],[1.7,1.23],[1.98,1.31],[2,1.6],[2.08,1.96],[2.03,2.12],[1.81,2.27],[1.43,2.41],[1,2.49],[1,2.6]]],
  [80, [[3.17,2.6],[3.17,2.49],[3.39,2.28],[3.58,2.17],[3.82,2.28],[3.98,2.49],[3.98,2.6]]],
  [90, [[3.72,2.6],[3.75,2.48],[3.88,2.48],[3.9,2.6]]],
  [80, [[-0.1,2.6],[0.15,2.6],[0.08,2.42],[0.02,2.38],[-0.1,2.38]]],
  [90, [[-0.1,2.5],[0.03,2.5],[0.03,2.1],[-0.1,2.1]]],
  [40, [[4.55,2.6],[4.55,2.35],[4.69,2.28],[5.18,2.3],[5.5,2.49],[5.5,2.6]]],
  [30, [[4.69,2.6],[4.69,2.49],[4.85,2.41],[5.18,2.48],[5.18,2.6]]],
  [LINE, [[4.12,2.28],[3.98,2.02],[3.9,1.67],[3.98,1.28],[4.15,0.98],[4.31,0.82],[4.45,0.78],[4.61,0.82],[4.64,0.9]]],
  [LINE, [[4.55,1.18],[4.42,1.44],[4.39,1.93],[4.42,2.06],[5.02,2.12],[5.56,2.31],[5.94,2.49]]],
  [70, [[4.66,1.67],[4.72,1.78],[5.02,1.89],[5.42,1.99],[5.46,1.86],[5.37,1.7],[5.23,1.52],[5.02,1.39],[4.8,1.37],[4.69,1.5]]],
  [LINE, [[5.89,1.86],[5.75,1.6],[5.59,1.28],[5.56,1.1],[5.23,0.94]]],
  [70, [[5.86,2.38],[5.94,2.48],[5.97,2.31]]],
  [90, [[5.97,1.9],[5.97,2.1],[6.1,2.1],[6.1,1.9]]],
  [40, [[-0.1,0.85],[0.13,0.85],[0.29,0.82],[0.4,0.5],[0.56,0.27],[0.59,0.04],[0.59,-0.1],[-0.1,-0.1]]],
  [30, [[0.03,0.11],[0.08,0.25],[0.16,0.3],[0.27,0.25],[0.34,0.06],[0.34,-0.1],[0,-0.1]]],
  [LINE, [[0.03,1.5],[0.08,1.86],[0.17,1.96],[0.29,1.76],[0.51,1.28],[0.73,0.63],[0.92,0.4],[1.22,0.19]]],
  [LINE, [[5.05,0.04],[5.1,0.4],[5.18,0.63],[5.26,0.69],[5.5,0.85],[5.72,0.79],[5.88,0.59],[5.97,0.3]]],
  [40, [[5.18,-0.1],[5.18,0.04],[5.15,0.4],[5.26,0.66],[5.5,0.82],[5.75,0.76],[5.91,0.53],[5.98,0.3],[6.1,0.01],[6.1,-0.1]]],
  [30, [[5.23,-0.1],[5.23,0.04],[5.23,0.33],[5.34,0.59],[5.53,0.74],[5.75,0.69],[5.86,0.5],[5.94,0.27],[5.98,0.01],[5.98,-0.1]]],
  [20, [[5.31,-0.1],[5.31,0.04],[5.29,0.3],[5.37,0.53],[5.56,0.66],[5.75,0.61],[5.82,0.43],[5.86,0.14],[5.89,0.03],[5.89,-0.1]]],
  [10, [[5.34,-0.1],[5.34,0.04],[5.34,0.4],[5.42,0.59],[5.61,0.64],[5.75,0.56],[5.78,0.37],[5.78,0.17],[5.83,0.03],[5.83,-0.1]]],
  [0, [[5.34,-0.1],[5.34,0.04],[5.35,0.3],[5.42,0.4],[5.5,0.2],[5.59,0.37],[5.66,0.37],[5.69,0.04],[5.69,-0.1]]],
  [LINE, [[5.97,0.97],[5.85,0.95],[5.8,0.8],[5.85,0.6],[5.97,0.55]]],
  [70, [[5.93,0.82],[5.97,0.88],[6.1,0.88],[6.1,0.72],[5.97,0.74]]],
  [DENSE, [[5.95,0.82],[5.98,0.86],[6.1,0.86],[6.1,0.74],[5.98,0.76]]],
  [90, [[5.98,0.78],[5.98,0.82],[6.1,0.82],[6.1,0.78]]],
  [DENSE, [[-0.1,-0.1],[0,0.02],[0.2,0.04],[5.2,0.04],[5.2,-0.1]]],
  [90, [[1,0.02],[2.3,0.02],[2.3,-0.1],[1,-0.1]]],
  [80, [[2.52,0.04],[2.57,0.14],[2.65,0.14],[2.69,0.04]]],
  [90, [[2.55,0.02],[2.6,0.05],[2.66,0.02]]]
];
const v5Labels = [[3.39,2.19,'80.0%'],[0.93,1.69,'80.0%'],[0.1,2.31,'70.0%'],[3.98,1.42,'60.0%'],[4.72,1.03,'60.0%'],[5.85,1.99,'60.0%'],[4.42,2.4,'50.0%'],[5.21,0.78,'50.0%'],[5.22,0.17,'40.0%'],[3.53,0.27,'70.0%'],[1.31,0.07,'60.0%'],[2,0.07,'70.0%'],[0.18,0.96,'60.0%']];

// Colour bar bands
const speedColors = ['#0000ff','#0080ff','#00ffff','#00ffa0','#00ff00','#00ff00','#00ff00','#ffff00','#ff8000','#ff0000'];
const pddColors = ['#0000ff','#0080ff','#00ffff','#00ffa0','#00ff40','#00ff00','#00ff00','#ffff00','#ff8000','#ff0000'];
const pmvColors = ['#0000ff','#0055ff','#00aaff','#00ffff','#00ffc8','#00ff80','#00ff00','#00ff00','#00ff00','#76ff00','#ffff00','#ffbb00','#ff8000','#ff4000','#ff0000'];

function rainbow(count) {
  const stops = [[0, 0, 0, 255], [0.24, 0, 255, 255], [0.46, 0, 255, 0], [0.58, 0, 255, 0], [0.75, 255, 255, 0], [1, 255, 0, 0]];
  const out = [];
  for (let i = 0; i < count; i++) {
    const t = i / (count - 1);
    let k = 0;
    while (k < stops.length - 2 && t > stops[k + 1][0]) k++;
    const a = stops[k], b = stops[k + 1];
    const f = (t - a[0]) / (b[0] - a[0]);
    const c = [1, 2, 3].map(j => Math.round(a[j] + (b[j] - a[j]) * f));
    out.push('rgb(' + c.join(',') + ')');
  }
  return out;
}

const FONT = 'Liberation Serif';
const LINE_COLOR = '#6a6a6a';

// The H column and V column were pasted at different scales
const hFonts = { tick: 19, bar: 20, label: 20, axis: 20, tag: 35 };
const vFonts = { tick: 22, bar: 22.5, label: 23, axis: 23, tag: 32 };

const tempScale = { min: 20, step: 1, colors: rainbow(30), unit: '°C' };
const speedScale = { min: 0, step: 0.1, colors: speedColors, unit: ' m/s' };
const speedWideScale = { min: 0, step: 0.1, colors: rainbow(20), unit: ' m/s' };
const pmvScale = { min: 0, step: 0.2, colors: pmvColors, unit: '', hideTop: true };
const pddScale = { min: 0, step: 10, colors: pddColors, unit: '%' };

const panels = [
  { tag: '(H1)', tagAt: [62, 48], name: 'Air temperature', nameAt: [62, 220], yName: 'Y (m)', yAt: [130, 27], xAt: [724, 423], plot: [136, 50, 673, 407], bar: [682, 59, 709, 398], yMin: 0.5, yMax: 4.5, scale: tempScale, barStep: 2, regions: h1Regions, labels: h1Labels, fonts: hFonts },
  { tag: '(V1)', tagAt: [828, 73], name: 'Air temperature', nameAt: [831, 221], yName: 'Z (m)', yAt: [900, 62], xAt: [1586, 365], plot: [910, 87, 1533, 345], bar: [1543, 97, 1576, 337], yMin: 0, yMax: 2.5, scale: tempScale, barStep: 5, regions: v1Regions, labels: v1Labels, fonts: vFonts },
  { tag: '(H2)', tagAt: [56, 468], name: 'Velocity', nameAt: [62, 631], yName: 'Y (m)', yAt: [134, 460], xAt: [720, 860], plot: [139, 485, 677, 843], bar: [685, 493, 712, 834], yMin: 0.5, yMax: 4.5, scale: speedScale, barStep: 0.1, regions: h2Regions, labels: h2Labels, fonts: hFonts },
  { tag: '(V2)', tagAt: [833, 487], name: 'Velocity', nameAt: [831, 614], yName: 'Z (m)', yAt: [900, 460], xAt: [1589, 765], plot: [910, 489, 1533, 748], bar: [1543, 499, 1573, 738], yMin: 0, yMax: 2.5, scale: speedWideScale, barStep: 0.2, regions: v2Regions, labels: v2Labels, fonts: vFonts },
  { tag: '(H3)', tagAt: [60, 893], name: 'Mean radiation temperature', nameAt: [61, 1109], yName: 'Y (m)', yAt: [125, 897], xAt: [717, 1294], plot: [132, 922, 670, 1278], bar: [679, 930, 705, 1269], yMin: 0.5, yMax: 4.5, scale: tempScale, barStep: 2, regions: h3Regions, labels: h3Labels, fonts: hFonts },
  { tag: '(V3)', tagAt: [832, 895], name: 'Mean radiation temperature', nameAt: [833, 1080], yName: 'Z (m)', yAt: [908, 897], xAt: [1596, 1203], plot: [917, 924, 1541, 1183], bar: [1550, 934, 1580, 1173], yMin: 0, yMax: 2.5, scale: tempScale, barStep: 5, regions: v3Regions, labels: v3Labels, fonts: vFonts },
  { tag: '(H4)', tagAt: [55, 1333], name: 'PMV', nameAt: [44, 1515], yName: 'Y (m)', yAt: [128, 1327], xAt: [713, 1725], plot: [132, 1351, 669, 1709], bar: [678, 1359, 704, 1700], yMin: 0.5, yMax: 4.5, scale: pmvScale, barStep: 0.2, regions: h4Regions, labels: h4Labels, fonts: hFonts },
  { tag: '(V4)', tagAt: [838, 1337], name: 'PMV', nameAt: [836, 1501], yName: 'Z (m)', yAt: [908, 1331], xAt: [1593, 1637], plot: [920, 1359, 1542, 1617], bar: [1552, 1368, 1582, 1608], yMin: 0, yMax: 2.5, scale: pmvScale, barStep: 0.4, regions: v4Regions, labels: v4Labels, fonts: vFonts },
  { tag: '(H5)', tagAt: [43, 1782], name: 'PDD', nameAt: [49, 1930], yName: 'Y(m)', yAt: [109, 1756], xAt: [722, 2176], plot: [121, 1785, 673, 2158], bar: [682, 1794, 710, 2149], yMin: 0.5, yMax: 4.5, scale: pddScale, barStep: 10, regions: h5Regions, labels: h5Labels, fonts: hFonts },
  { tag: '(V5)', tagAt: [841, 1798], name: 'PDD', nameAt: [831, 1887], yName: 'Z (m)', yAt: [906, 1773], xAt: [1594, 2078], plot: [917, 1801, 1541, 2058], bar: [1550, 1810, 1580, 2050], yMin: 0, yMax: 2.5, scale: pddScale, barStep: 10, regions: v5Regions, labels: v5Labels, fonts: vFonts }
];

function colorOf(scale, level) {
  if (level === DENSE) return LINE_COLOR;
  if (level === OFF) return '#000000';
  return scale.colors[Math.round((level - scale.min) / scale.step)];
}

function addCanvas(left, top, width, height) {
  const canvas = document.createElement('canvas');
  canvas.width = width;
  canvas.height = height;
  canvas.style.left = left + 'px';
  canvas.style.top = top + 'px';
  canvas.style.width = width + 'px';
  canvas.style.height = height + 'px';
  document.getElementById('page').appendChild(canvas);
  return canvas;
}

function fixSize(size) {
  return function (s) {
    if (s.isHorizontal()) s.height = size; else s.width = size;
    s.paddingLeft = s.paddingRight = s.paddingTop = s.paddingBottom = 0;
  };
}

function frameAxis(position, min, max, size, showLabels, fontSize) {
  return {
    type: 'linear', position, min, max,
    afterFit: fixSize(size),
    border: { color: '#000', width: 3, z: 2 },
    grid: { drawOnChartArea: false, drawTicks: true, tickLength: -6, color: '#000', lineWidth: 2.5, z: 2 },
    ticks: {
      display: showLabels, stepSize: 0.5, autoSkip: false, maxRotation: 0, includeBounds: false,
      padding: position === 'left' ? 15 : 12,
      color: '#000', font: { family: FONT, size: fontSize },
      callback: v => v.toFixed(1)
    }
  };
}

function labelBoxes(chart, p) {
  const ctx = chart.ctx;
  ctx.save();
  ctx.font = p.fonts.label + 'px "' + FONT + '"';
  const boxes = p.labels.map(l => {
    const w = ctx.measureText(l[2]).width;
    return [chart.scales.x.getPixelForValue(l[0]) - w / 2 - 1, chart.scales.y.getPixelForValue(l[1]) - 9, w + 2, 18];
  });
  ctx.restore();
  return boxes;
}

// Panel tag, axis names and the contour level labels
const textPlugin = {
  id: 'panelText',
  // the filler has already painted the band here, so this only breaks the contour line under a label
  beforeDatasetDraw(chart) {
    const ctx = chart.ctx;
    const p = chart.options.plugins.panelText.panel;
    ctx.save();
    ctx.beginPath();
    ctx.rect(0, 0, chart.width, chart.height);
    labelBoxes(chart, p).forEach(b => ctx.rect(b[0], b[1], b[2], b[3]));
    ctx.clip('evenodd');
  },
  afterDatasetDraw(chart) {
    chart.ctx.restore();
  },
  afterDraw(chart) {
    const p = chart.options.plugins.panelText.panel;
    const box = chart.options.plugins.panelText.box;
    const ctx = chart.ctx;
    const area = chart.chartArea;
    ctx.save();
    ctx.fillStyle = '#000';
    ctx.textAlign = 'center';
    ctx.textBaseline = 'middle';

    ctx.save();
    ctx.beginPath();
    ctx.rect(area.left, area.top, area.right - area.left, area.bottom - area.top);
    ctx.clip();
    ctx.font = p.fonts.label + 'px "' + FONT + '"';
    p.labels.forEach(l => {
      ctx.fillText(l[2], chart.scales.x.getPixelForValue(l[0]), chart.scales.y.getPixelForValue(l[1]));
    });
    ctx.restore();

    ctx.font = 'bold ' + p.fonts.tag + 'px "' + FONT + '"';
    ctx.fillText(p.tag, p.tagAt[0] - box.left, p.tagAt[1] - box.top);
    ctx.font = 'bold ' + p.fonts.axis + 'px "' + FONT + '"';
    ctx.fillText(p.yName, p.yAt[0] - box.left, p.yAt[1] - box.top);
    ctx.fillText('X (m)', p.xAt[0] - box.left, p.xAt[1] - box.top);
    ctx.translate(p.nameAt[0] - box.left, p.nameAt[1] - box.top);
    ctx.rotate(-Math.PI / 2);
    ctx.font = (p.name.length > 3 ? 27 : 25) + 'px "' + FONT + '"';
    ctx.fillText(p.name, 0, 0);
    ctx.restore();
  }
};

function drawContours(p) {
  const [left, top, right, bottom] = p.plot;
  const box = { left: left < 800 ? 0 : 790, top: top - 55 };
  const width = right + 105 - box.left;
  const height = bottom + 45 - box.top;
  const canvas = addCanvas(box.left, box.top, width, height);

  const datasets = p.regions.map((region, i) => {
    const level = region[0];
    const isLine = level === LINE;
    const pts = isLine ? region[1] : region[1].concat([region[1][0]]);
    return {
      data: pts.map(q => ({ x: q[0], y: q[1] })),
      showLine: true,
      pointRadius: 0,
      tension: 0.2,
      capBezierPoints: false,
      borderColor: LINE_COLOR,
      borderWidth: 1.6,
      backgroundColor: isLine ? 'transparent' : colorOf(p.scale, level),
      fill: isLine ? false : 'shape',
      order: p.regions.length - i
    };
  });

  new Chart(canvas, {
    type: 'scatter',
    data: { datasets },
    plugins: [textPlugin],
    options: {
      responsive: false,
      animation: false,
      events: [],
      layout: { padding: { top: 55, right: 105, left: 0, bottom: 0 } },
      plugins: { legend: { display: false }, tooltip: { enabled: false }, panelText: { panel: p, box } },
      scales: {
        x: frameAxis('bottom', 0, 6, 45, true, p.fonts.tick),
        y: frameAxis('left', p.yMin, p.yMax, left - box.left, true, p.fonts.tick),
        x2: frameAxis('top', 0, 6, 0, false, p.fonts.tick),
        y2: frameAxis('right', p.yMin, p.yMax, 0, false, p.fonts.tick)
      }
    }
  });
}

function drawColorBar(p) {
  const [left, top, right, bottom] = p.bar;
  const s = p.scale;
  const max = s.min + s.step * s.colors.length;
  const canvas = addCanvas(left - 4, top - 14, right - left + 4 + 95, bottom - top + 28);
  const datasets = s.colors.map((color, i) => ({
    data: [[s.min + s.step * i, s.min + s.step * (i + 1)]],
    backgroundColor: color,
    barPercentage: 1,
    categoryPercentage: 1,
    grouped: false
  }));
  const edge = (position, size) => ({
    type: 'linear', position, min: 0, max: 1, afterFit: fixSize(size),
    border: { color: '#000', width: 3, z: 2 },
    grid: { display: true, drawOnChartArea: false, drawTicks: false },
    ticks: { display: false }
  });
  new Chart(canvas, {
    type: 'bar',
    data: { labels: [p.name], datasets },
    options: {
      responsive: false,
      animation: false,
      events: [],
      layout: { padding: { top: 14, bottom: 14, left: 4, right: 0 } },
      plugins: { legend: { display: false }, tooltip: { enabled: false } },
      scales: {
        x: { type: 'category', position: 'bottom', afterFit: fixSize(0), border: { color: '#000', width: 3, z: 2 }, grid: { drawOnChartArea: false, drawTicks: false }, ticks: { display: false } },
        x2: edge('top', 0),
        y: {
          type: 'linear', position: 'right', min: s.min, max,
          afterFit: fixSize(95),
          border: { color: '#000', width: 2, z: 2 },
          grid: { drawOnChartArea: false, drawTicks: true, tickLength: 6, color: '#000', lineWidth: 2, z: 2 },
          ticks: {
            stepSize: p.barStep, autoSkip: false, includeBounds: false, padding: 1, color: '#000',
            font: { family: FONT, size: p.fonts.bar },
            callback: v => (s.hideTop && v >= max - 1e-6) ? '' : v.toFixed(1) + s.unit
          }
        },
        y2: { type: 'linear', position: 'left', min: 0, max: 1, afterFit: fixSize(0), border: { color: '#000', width: 2, z: 2 }, grid: { drawOnChartArea: false, drawTicks: false }, ticks: { display: false } }
      }
    }
  });
}

panels.forEach(p => {
  drawContours(p);
  drawColorBar(p);
});
</script>
</body>
</html>
